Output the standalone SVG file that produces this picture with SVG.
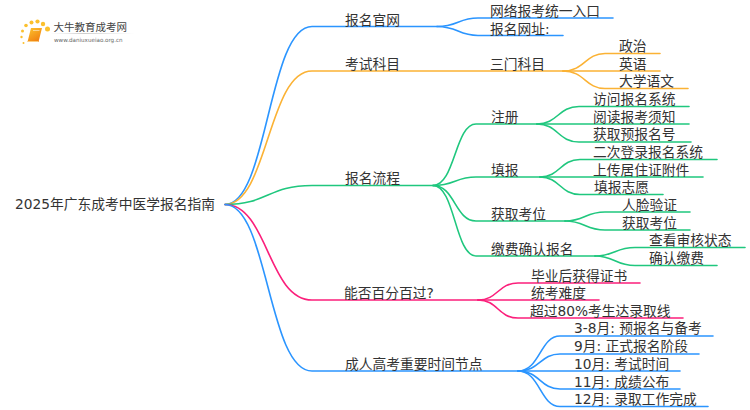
<svg xmlns="http://www.w3.org/2000/svg" width="750" height="410" viewBox="0 0 750 410">
<style>
text{font-family:"DejaVu Sans","Noto Sans CJK SC",sans-serif;font-size:13.75px;fill:#333}
.c{fill:none;stroke-width:1.6;stroke-linecap:round}
.b{stroke:#2b95ff}.o{stroke:#fbb234}.g{stroke:#1fc77e}.p{stroke:#fb1f7b}
.dot{fill:#fbc02d}
</style>
<defs><linearGradient id="bk" x1="0" y1="0" x2="0.6" y2="1"><stop offset="0" stop-color="#fdc52e"/><stop offset="1" stop-color="#f08010"/></linearGradient>
<linearGradient id="ln" x1="0" x2="1" y1="0" y2="0"><stop offset="0" stop-color="#ddd" stop-opacity="0"/><stop offset="0.4" stop-color="#ccc"/><stop offset="1" stop-color="#ddd" stop-opacity="0"/></linearGradient></defs>
<rect width="750" height="410" fill="#fff"/>
<g id="connectors">
<path class="c b" d="M225 204.500C268 204.500 268 26.500 312 26.500H437"/>
<path class="c o" d="M225 204.500C268 204.500 268 71 312 71H563"/>
<path class="c g" d="M225 204.500C268 204.500 268 185.500 312 185.500H433"/>
<path class="c p" d="M225 204.500C268 204.500 268 300 312 300H478"/>
<path class="c b" d="M225 204.500C268 204.500 268 371 312 371H518"/>
<path class="c b" d="M437 26.500C458 26.500 458 18 478 18H613"/>
<path class="c b" d="M437 26.500C458 26.500 458 35.500 478 35.500H563"/>
<path class="c o" d="M563 71C585 71 585 53.500 605 53.500H660"/>
<path class="c o" d="M563 71H660"/>
<path class="c o" d="M563 71C585 71 585 88.500 605 88.500H688"/>
<path class="c g" d="M433 185.500C455 185.500 455 124 476 124H537"/>
<path class="c g" d="M433 185.500C455 185.500 455 177 476 177H540"/>
<path class="c g" d="M433 185.500C455 185.500 455 221 476 221H565"/>
<path class="c g" d="M433 185.500C455 185.500 455 256 476 256H595"/>
<path class="c g" d="M537 124C558 124 558 106.500 579 106.500H689"/>
<path class="c g" d="M537 124H689"/>
<path class="c g" d="M537 124C558 124 558 142 579 142H691"/>
<path class="c g" d="M540 177C560 177 560 159.500 580 159.500H717"/>
<path class="c g" d="M540 177H703"/>
<path class="c g" d="M540 177C560 177 560 194.500 580 194.500H663"/>
<path class="c g" d="M565 221C585 221 585 212 605 212H690"/>
<path class="c g" d="M565 221C585 221 585 230 605 230H690"/>
<path class="c g" d="M595 256C615 256 615 247.500 635 247.500H745"/>
<path class="c g" d="M595 256C615 256 615 265.500 635 265.500H717"/>
<path class="c p" d="M478 300C498 300 498 283 518 283H640"/>
<path class="c p" d="M478 300H599"/>
<path class="c p" d="M478 300C498 300 498 318 518 318H683"/>
<path class="c b" d="M518 371C540 371 540 336 560 336H713"/>
<path class="c b" d="M518 371C540 371 540 354 560 354H699"/>
<path class="c b" d="M518 371H680"/>
<path class="c b" d="M518 371C540 371 540 389 560 389H680"/>
<path class="c b" d="M518 371C540 371 540 406.500 560 406.500H708"/>
</g>
<g id="logo">
<circle class="dot" cx="22.500" cy="31" r="1.500"/><circle class="dot" cx="21.500" cy="37" r="1.200"/><circle class="dot" cx="23.500" cy="43" r="1"/>
<circle class="dot" cx="26" cy="25.500" r="1.800"/><circle class="dot" cx="31.500" cy="22.500" r="2"/><circle class="dot" cx="37.500" cy="21.500" r="2.100"/><circle class="dot" cx="43" cy="24" r="2.200"/><circle class="dot" cx="47.500" cy="29" r="2.500"/>
<path d="M31 28H42L38.500 42H27.500Z" fill="url(#bk)"/>
<path d="M33 30.500H39.500" stroke="#fff" stroke-width=".7" opacity=".7"/>
<path d="M28 41.500H38" stroke="#fde0a0" stroke-width=".8"/>
<text x="53.500" y="31" style="font-size:10.500px;fill:#444">大牛教育成考网</text>
<rect x="50" y="33" width="85" height="1" fill="url(#ln)"/>
<text x="54" y="41.500" style="font-size:5.600px;fill:#666">www.daniuxueiao.org.cn</text>
</g>
<g id="root"><text x="15" y="209">2025年广东成考中医学报名指南</text></g>
<g id="n1"><text x="345" y="24.500">报名官网</text></g>
<g id="n1-1"><text x="490" y="16">网络报考统一入口</text></g>
<g id="n1-2"><text x="490" y="33.500">报名网址:</text></g>
<g id="n2"><text x="345" y="68.500">考试科目</text></g>
<g id="n2-1"><text x="490" y="68.500">三门科目</text></g>
<g id="n2-1-1"><text x="619" y="51">政治</text></g>
<g id="n2-1-2"><text x="619" y="68.500">英语</text></g>
<g id="n2-1-3"><text x="619" y="86">大学语文</text></g>
<g id="n3"><text x="345" y="183">报名流程</text></g>
<g id="n3-1"><text x="491" y="121.500">注册</text></g>
<g id="n3-1-1"><text x="593" y="104">访问报名系统</text></g>
<g id="n3-1-2"><text x="593" y="121.500">阅读报考须知</text></g>
<g id="n3-1-3"><text x="593" y="139">获取预报名号</text></g>
<g id="n3-2"><text x="491" y="174.500">填报</text></g>
<g id="n3-2-1"><text x="593" y="157">二次登录报名系统</text></g>
<g id="n3-2-2"><text x="593" y="174.500">上传居住证附件</text></g>
<g id="n3-2-3"><text x="594" y="192">填报志愿</text></g>
<g id="n3-3"><text x="491" y="218.500">获取考位</text></g>
<g id="n3-3-1"><text x="622" y="210">人脸验证</text></g>
<g id="n3-3-2"><text x="622" y="227.500">获取考位</text></g>
<g id="n3-4"><text x="491" y="254">缴费确认报名</text></g>
<g id="n3-4-1"><text x="649" y="245">查看审核状态</text></g>
<g id="n3-4-2"><text x="649" y="263">确认缴费</text></g>
<g id="n4"><text x="344" y="298">能否百分百过?</text></g>
<g id="n4-1"><text x="531" y="280.500">毕业后获得证书</text></g>
<g id="n4-2"><text x="531" y="298">统考难度</text></g>
<g id="n4-3"><text x="530" y="315.500">超过80%考生达录取线</text></g>
<g id="n5"><text x="345" y="369">成人高考重要时间节点</text></g>
<g id="n5-1"><text x="574" y="333">3-8月: 预报名与备考</text></g>
<g id="n5-2"><text x="574" y="351">9月: 正式报名阶段</text></g>
<g id="n5-3"><text x="574" y="369">10月: 考试时间</text></g>
<g id="n5-4"><text x="574" y="386.500">11月: 成绩公布</text></g>
<g id="n5-5"><text x="574" y="404">12月: 录取工作完成</text></g>
</svg>
